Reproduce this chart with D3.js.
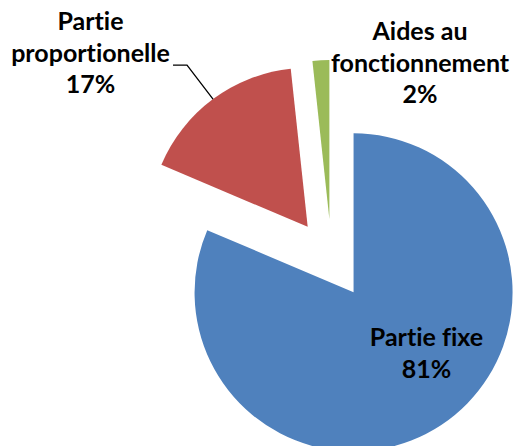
<!DOCTYPE html>
<html>
  <head>
    <meta charset="utf-8">
    <title>Répartition</title>
    <style media="screen">
      body { margin: 0; background-color: #ffffff; }
      text.pieLabel {
        font-family: Lato, "Open Sans", sans-serif;
        font-weight: bold;
        font-size: 25px;
        font-variant-ligatures: none;
        fill: #000;
      }
    </style>
  </head>
  <body>
    <svg id="svg1" width="513" height="446"></svg>

    <script type="text/javascript" src="https://cdnjs.cloudflare.com/ajax/libs/d3/7.8.5/d3.min.js"></script>
    <script type="text/javascript">
      // Slices, clockwise from 12 o'clock
      var categories = ["Partie fixe", "Partie proportionelle", "Aides au fonctionnement"];
      var values = [81.4, 16.9, 1.7];
      var colors = ["#4f81bd", "#c0504d", "#9bbb59"];

      // Label text lines (last line is the percentage, built from the value)
      var labelLines = [["Partie fixe"], ["Partie", "proportionelle"], ["Aides au", "fonctionnement"]];

      var svg = d3.select("#svg1"),
          cx = 331.5, cy = 259,
          radius = 159,
          explode = 40,
          lineHeight = 31.5;

      var g = svg.append("g").attr("transform", "translate(" + cx + "," + cy + ")");

      var data = values.map(function(v, i) {
        return {name: categories[i], value: v, color: colors[i], lines: labelLines[i]};
      });

      var pie = d3.pie().sort(null).value(function(d) { return d.value; });
      var arc = d3.arc().innerRadius(0).outerRadius(radius);
      var arcs = pie(data);

      function shift(d, dist) {
        var a = (d.startAngle + d.endAngle) / 2;
        return [Math.sin(a) * dist, -Math.cos(a) * dist];
      }

      // Draw exploded slices
      g.selectAll("path.slice")
        .data(arcs)
        .enter()
        .append("path")
        .classed("slice", true)
        .attr("transform", function(d) {
          var s = shift(d, explode);
          return "translate(" + s[0] + "," + s[1] + ")";
        })
        .attr("d", arc)
        .attr("fill", function(d) { return d.data.color; });

      // Label placement, relative to the pie centre (first-line baseline, centred)
      var labelPos = [[95, 87], [-241, -229], [88.5, -219]];

      g.selectAll("text.pieLabel")
        .data(arcs)
        .enter()
        .append("text")
        .classed("pieLabel", true)
        .attr("text-anchor", "middle")
        .each(function(d, i) {
          var t = d3.select(this);
          var lines = d.data.lines.concat([Math.round(d.data.value) + "%"]);
          lines.forEach(function(l, k) {
            t.append("tspan")
              .attr("x", labelPos[i][0])
              .attr("y", labelPos[i][1] + k * lineHeight)
              .text(l);
          });
        });

      // Leader line for "Partie proportionelle"
      var red = arcs[1];
      var s = shift(red, explode);
      var mid = (red.startAngle + red.endAngle) / 2;
      var end = [s[0] + Math.sin(mid) * radius, s[1] - Math.cos(mid) * radius];
      var elbow = [end[0] - 26, end[1] - 34];
      var start = [elbow[0] - 14, elbow[1]];

      g.append("path")
        .attr("d", d3.line()([start, elbow, end]))
        .attr("fill", "none")
        .attr("stroke", "#000")
        .attr("stroke-width", 1.3);
    </script>
  </body>
</html>
